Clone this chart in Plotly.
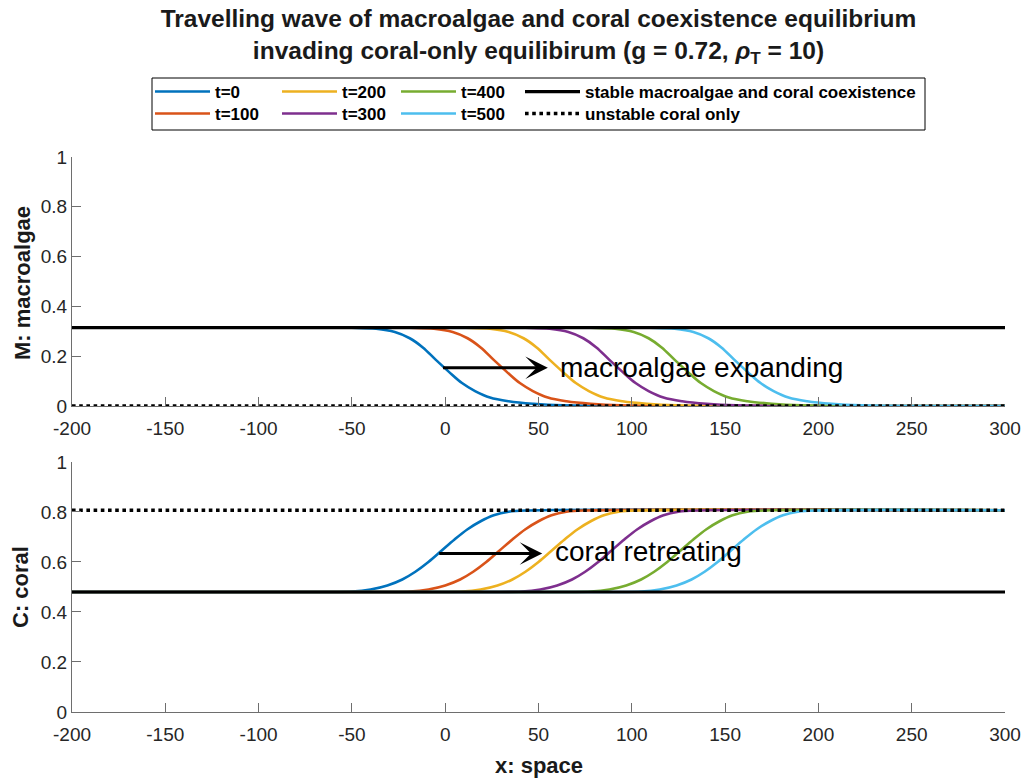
import plotly.graph_objects as go
from plotly.subplots import make_subplots

FONT = "Liberation Sans, Arial, Helvetica, sans-serif"

# ---------------- data ----------------
time_labels = ["t=0", "t=100", "t=200", "t=300", "t=400", "t=500"]
line_colors = ["#0072BD", "#D95319", "#EDB120", "#7E2F8E", "#77AC30", "#4DBEEE"]

# equilibria
M_stable = 0.315      # stable macroalgae and coral coexistence (M)
C_stable = 0.48       # stable macroalgae and coral coexistence (C)
M_unstable = 0.0      # unstable coral only (M)
C_unstable = 0.807    # unstable coral only (C)

# macroalgae front values (same sampled profile for each time)
M_front = [0.315, 0.315, 0.314, 0.31, 0.297, 0.272, 0.235, 0.185, 0.137,
           0.092, 0.06, 0.034, 0.019, 0.009, 0.003, 0.0]
M_x_t0 = [-200, -90, -50, -37, -27, -19, -12, -5, 2, 9, 16, 24, 34, 47, 63, 300]
M_x_t100 = [-200, -60, -19, -6, 4, 12, 19, 26, 33, 40, 47, 55, 65, 78, 94, 300]
M_x_t200 = [-200, -30, 11, 24, 34, 42, 49, 56, 63, 70, 77, 85, 95, 108, 124, 300]
M_x_t300 = [-200, 0, 43, 56, 66, 74, 81, 88, 95, 102, 109, 117, 127, 140, 156, 300]
M_x_t400 = [-200, 30, 78, 91, 101, 109, 116, 123, 130, 137, 144, 152, 162, 175, 191, 300]
M_x_t500 = [-200, 60, 110, 123, 133, 141, 148, 155, 162, 169, 176, 184, 194, 207, 223, 300]

# coral front values
C_front = [0.48, 0.48, 0.482, 0.49, 0.506, 0.53, 0.561, 0.6, 0.645, 0.69,
           0.731, 0.763, 0.787, 0.801, 0.806, 0.807]
C_x_t0 = [-200, -90, -50, -40, -31, -23, -16, -9, -2, 5, 12, 19, 26, 34, 44, 300]
C_x_t100 = [-200, -60, -19, -9, 0, 8, 15, 22, 29, 36, 43, 50, 57, 65, 75, 300]
C_x_t200 = [-200, -30, 9, 19, 28, 36, 43, 50, 57, 64, 71, 78, 85, 93, 103, 300]
C_x_t300 = [-200, 0, 41, 51, 60, 68, 75, 82, 89, 96, 103, 110, 117, 125, 135, 300]
C_x_t400 = [-200, 30, 78, 88, 97, 105, 112, 119, 126, 133, 140, 147, 154, 162, 172, 300]
C_x_t500 = [-200, 60, 105, 115, 124, 132, 139, 146, 153, 160, 167, 174, 181, 189, 199, 300]

x_range = [-200, 300]
x_ticks = [-200, -150, -100, -50, 0, 50, 100, 150, 200, 250, 300]
x_tick_labels = ["-200", "-150", "-100", "-50", "0", "50", "100", "150", "200", "250", "300"]
y_ticks = [0, 0.2, 0.4, 0.6, 0.8, 1]
y_tick_labels = ["0", "0.2", "0.4", "0.6", "0.8", "1"]

M_xs = [M_x_t0, M_x_t100, M_x_t200, M_x_t300, M_x_t400, M_x_t500]
C_xs = [C_x_t0, C_x_t100, C_x_t200, C_x_t300, C_x_t400, C_x_t500]

# legend slots: (column left px, row) -- column-major like the reference
legend_slot_ids = ["legend", "legend2", "legend3", "legend4", "legend5", "legend6"]
legend_cols_px = [150, 277, 396, 520]
legend_rows_top_px = [74, 96]

# ---------------- figure ----------------
fig = make_subplots(rows=2, cols=1, shared_xaxes=False, vertical_spacing=0.1009)

for i, lab in enumerate(time_labels):
    fig.add_trace(go.Scatter(x=M_xs[i], y=M_front, mode="lines", name=f"<b>{lab}</b>",
                             line=dict(color=line_colors[i], width=2.6, shape="spline", smoothing=1),
                             legend=legend_slot_ids[i], showlegend=True, hoverinfo="skip"),
                  row=1, col=1)
    fig.add_trace(go.Scatter(x=C_xs[i], y=C_front, mode="lines", name=f"<b>{lab}</b>",
                             line=dict(color=line_colors[i], width=2.6, shape="spline", smoothing=1),
                             showlegend=False, hoverinfo="skip"),
                  row=2, col=1)

# equilibrium lines (drawn on top)
fig.add_trace(go.Scatter(x=x_range, y=[M_stable, M_stable], mode="lines",
                         name="<b>stable macroalgae and coral coexistence</b>",
                         line=dict(color="black", width=3.2), legend="legend7",
                         hoverinfo="skip"), row=1, col=1)
fig.add_trace(go.Scatter(x=x_range, y=[M_unstable, M_unstable], mode="lines",
                         name="<b>unstable coral only</b>",
                         line=dict(color="black", width=3.6, dash="dot"), legend="legend8",
                         hoverinfo="skip"), row=1, col=1)
fig.add_trace(go.Scatter(x=x_range, y=[C_stable, C_stable], mode="lines",
                         name="stable", showlegend=False,
                         line=dict(color="black", width=3.2), hoverinfo="skip"), row=2, col=1)
fig.add_trace(go.Scatter(x=x_range, y=[C_unstable, C_unstable], mode="lines",
                         name="unstable", showlegend=False,
                         line=dict(color="black", width=3.6, dash="dot"), hoverinfo="skip"),
              row=2, col=1)

axis_common = dict(showline=True, linecolor="#6e6e6e", linewidth=1, ticks="inside",
                   ticklen=9, tickcolor="#6e6e6e", tickwidth=1, showgrid=False,
                   zeroline=False, mirror=False,
                   tickfont=dict(family=FONT, size=19, color="#262626"))

for r in (1, 2):
    fig.update_xaxes(range=x_range, tickvals=x_ticks, ticktext=x_tick_labels,
                     ticklabelstandoff=5, row=r, col=1, **axis_common)
    fig.update_yaxes(range=[0, 1], tickvals=y_ticks, ticktext=y_tick_labels,
                     ticksuffix="  ", row=r, col=1, **axis_common)

fig.update_layout(
    xaxis=dict(domain=[0, 1]),
    yaxis=dict(domain=[0.5514, 1]),
    xaxis2=dict(domain=[0, 1]),
    yaxis2=dict(domain=[0, 0.4505]),
)

TITLE_FONT = dict(family=FONT, size=22, color="#1a1a1a")
# axis titles
fig.add_annotation(text="<b>M: macroalgae</b>", xref="paper", yref="paper",
                   x=(22 - 72) / 933, y=(712 - 283) / 555, textangle=-90,
                   showarrow=False, xanchor="center", yanchor="middle", font=TITLE_FONT)
fig.add_annotation(text="<b>C: coral</b>", xref="paper", yref="paper",
                   x=(20 - 72) / 933, y=(712 - 587) / 555, textangle=-90,
                   showarrow=False, xanchor="center", yanchor="middle", font=TITLE_FONT)
fig.add_annotation(text="<b>x: space</b>", xref="paper", yref="paper",
                   x=0.5, y=(712 - 766) / 555,
                   showarrow=False, xanchor="center", yanchor="middle", font=TITLE_FONT)

legend_common = dict(xref="container", yref="container", xanchor="left", yanchor="top",
                     orientation="v", itemwidth=55, bgcolor="rgba(0,0,0,0)", borderwidth=0,
                     tracegroupgap=0, itemclick=False, itemdoubleclick=False,
                     font=dict(family=FONT, size=17, color="black"))
# column-major placement: t=0,t=100 | t=200,t=300 | t=400,t=500 | stable,unstable
slots = {}
all_ids = ["legend", "legend2", "legend3", "legend4", "legend5", "legend6", "legend7", "legend8"]
for k, lid in enumerate(all_ids):
    col, row = divmod(k, 2)
    slots[lid] = dict(x=legend_cols_px[col] / 1022, y=1 - legend_rows_top_px[row] / 780,
                      **legend_common)
fig.update_layout(**slots)

# legend border box
fig.add_shape(type="rect", xref="paper", yref="paper",
              x0=(152 - 72) / 933, x1=(925 - 72) / 933,
              y0=(712 - 130) / 555, y1=(712 - 78) / 555,
              line=dict(color="black", width=1), fillcolor="rgba(0,0,0,0)", layer="above")

# arrows and labels
fig.add_annotation(x=55, y=0.154, ax=-2, ay=0.154, xref="x", yref="y", axref="x", ayref="y",
                   text="", showarrow=True, arrowhead=3, arrowsize=1.25, arrowwidth=3,
                   arrowcolor="black", standoff=0, startstandoff=0)
fig.add_annotation(x=60.5, y=0.153, xref="x", yref="y", text="macroalgae expanding",
                   showarrow=False, xanchor="left", yanchor="middle",
                   font=dict(family=FONT, size=28, color="black"))
fig.add_annotation(x=52, y=0.634, ax=-4, ay=0.634, xref="x2", yref="y2", axref="x2", ayref="y2",
                   text="", showarrow=True, arrowhead=3, arrowsize=1.25, arrowwidth=3,
                   arrowcolor="black", standoff=0, startstandoff=0)
fig.add_annotation(x=57.5, y=0.643, xref="x2", yref="y2", text="coral retreating",
                   showarrow=False, xanchor="left", yanchor="middle",
                   font=dict(family=FONT, size=28, color="black"))

fig.update_layout(
    width=1022, height=780,
    margin=dict(l=72, r=17, t=157, b=68, autoexpand=False),
    paper_bgcolor="white", plot_bgcolor="white",
    font=dict(family=FONT, color="#262626"),
    title=dict(text="<b>Travelling wave of macroalgae and coral coexistence equilibrium<br>"
                    "invading coral-only equilibirum (g = 0.72, <i>ρ</i><sub>T</sub> = 10)</b>",
               x=0.5, xref="paper", xanchor="center", y=1 - 27 / 780, yref="container",
               yanchor="top", font=dict(family=FONT, size=24.5, color="#1a1a1a")),
    showlegend=True,
)

fig.write_html("out.html")
